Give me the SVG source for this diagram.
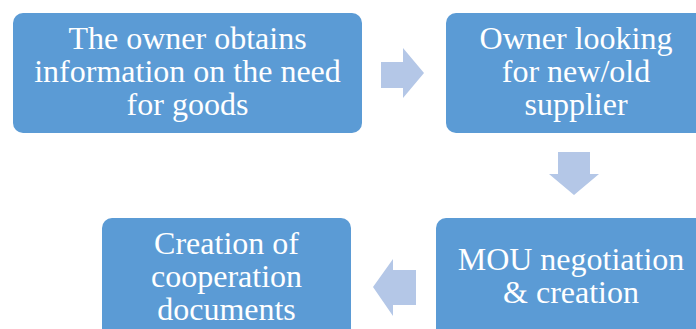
<svg xmlns="http://www.w3.org/2000/svg" width="696" height="329" viewBox="0 0 696 329">
  <style>
    .box { fill: #5B9BD5; }
    .arrow { fill: #B4C7E7; }
    .label { font-size: 32px; fill: #FFFFFF; text-anchor: middle; }
  </style>
  <rect width="696" height="329" fill="#FFFFFF"/>

  <g font-family="Liberation Serif, Times New Roman, Tinos, serif">
    <g id="node-obtain-info">
      <rect class="box" x="13" y="13" width="349" height="120" rx="10"/>
      <text class="label" x="187.5" y="49">The owner obtains</text>
      <text class="label" x="187.5" y="82">information on the need</text>
      <text class="label" x="187.5" y="115">for goods</text>
    </g>

    <g id="node-find-supplier">
      <rect class="box" x="446" y="13" width="262" height="120" rx="10"/>
      <text class="label" x="576" y="49">Owner looking</text>
      <text class="label" x="576" y="82">for new/old</text>
      <text class="label" x="576" y="115">supplier</text>
    </g>

    <g id="node-mou">
      <rect class="box" x="436" y="218" width="272" height="120" rx="10"/>
      <text class="label" x="571" y="270">MOU negotiation</text>
      <text class="label" x="571" y="303">&amp; creation</text>
    </g>

    <g id="node-cooperation-docs">
      <rect class="box" x="102" y="218" width="249" height="120" rx="10"/>
      <text class="label" x="226.5" y="254">Creation of</text>
      <text class="label" x="226.5" y="287">cooperation</text>
      <text class="label" x="226.5" y="320">documents</text>
    </g>
  </g>

  <g id="connectors">
    <polygon class="arrow" points="381,62 403,62 403,48 424,73 403,98 403,88 381,88"/>
    <polygon class="arrow" points="558,152 590,152 590,174 599,174 574,195 549,174 558,174"/>
    <polygon class="arrow" points="416,270 393,270 393,259 373,287 393,316 393,305 416,305"/>
  </g>
</svg>
